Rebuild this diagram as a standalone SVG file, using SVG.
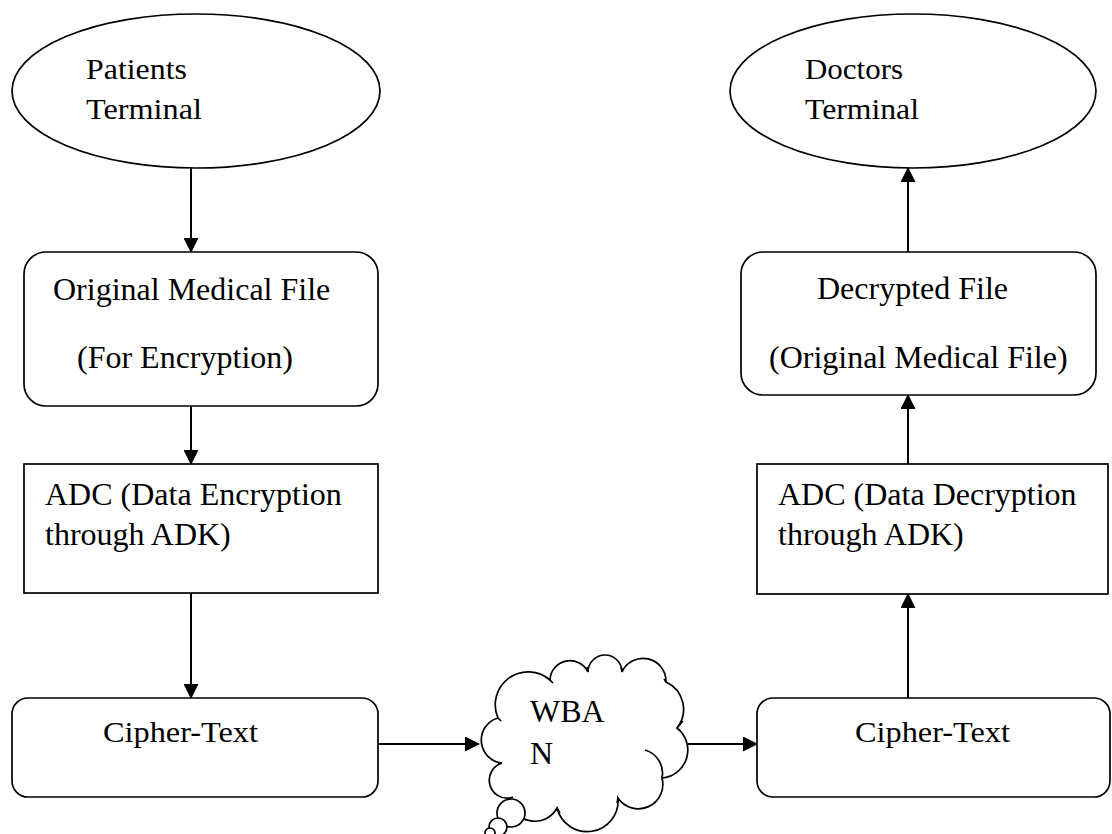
<svg xmlns="http://www.w3.org/2000/svg" width="1112" height="834" viewBox="0 0 1112 834">
<defs>
<style>
.shape{fill:#fff;stroke:#000;stroke-width:1.7}
.line{fill:none;stroke:#000;stroke-width:2}
text{font-family:"Liberation Serif","Times New Roman",serif;fill:#000;font-size:32px}
.sm{font-size:29px}
</style>
<marker id="arr" markerUnits="userSpaceOnUse" markerWidth="15" markerHeight="15" refX="14" refY="7.5" orient="auto">
<path d="M0,0 L15,7.5 L0,15 Z" fill="#000"/>
</marker>
</defs>

<g id="connectors">
<line class="line" x1="191" y1="168" x2="191" y2="252" marker-end="url(#arr)"/>
<line class="line" x1="191" y1="406" x2="191" y2="464" marker-end="url(#arr)"/>
<line class="line" x1="191" y1="593" x2="191" y2="698" marker-end="url(#arr)"/>
<line class="line" x1="378" y1="744" x2="479" y2="744" marker-end="url(#arr)"/>
<line class="line" x1="688" y1="744" x2="757" y2="744" marker-end="url(#arr)"/>
<line class="line" x1="908" y1="698" x2="908" y2="594" marker-end="url(#arr)"/>
<line class="line" x1="908" y1="464" x2="908" y2="395" marker-end="url(#arr)"/>
<line class="line" x1="908" y1="252" x2="908" y2="168" marker-end="url(#arr)"/>
</g>

<g id="patients-terminal">
<ellipse class="shape" cx="196" cy="91" rx="184" ry="77"/>
<text class="sm" x="86" y="79" textLength="101" lengthAdjust="spacingAndGlyphs">Patients</text>
<text class="sm" x="86" y="119" textLength="116" lengthAdjust="spacingAndGlyphs">Terminal</text>
</g>

<g id="original-medical-file">
<rect class="shape" x="24" y="252" width="354" height="154" rx="22" ry="22"/>
<text x="53" y="300">Original Medical File</text>
<text x="77" y="368">(For Encryption)</text>
</g>

<g id="adc-encryption">
<rect class="shape" x="24" y="464" width="354" height="129"/>
<text x="45" y="505">ADC (Data Encryption</text>
<text x="45" y="545">through ADK)</text>
</g>

<g id="cipher-text-left">
<rect class="shape" x="12" y="698" width="366" height="99" rx="16" ry="16"/>
<text class="sm" x="103" y="742" textLength="155" lengthAdjust="spacingAndGlyphs">Cipher-Text</text>
</g>

<g id="wban">
<path class="shape" d="M502,763 A23,23 0 0 1 498,718 A33,33 0 0 1 550,680 A20,20 0 0 1 588,672 A17,17 0 0 1 622,672 A23,23 0 0 1 666,682 A30,30 0 0 1 677,728 A28,28 0 0 1 662,778 A24.5,24.5 0 0 1 618,798 A31,31 0 0 1 557,808 A25,25 0 0 1 510,798 A18,18 0 0 1 502,763 Z"/>
<path class="line" style="stroke-width:1.7" d="M645,750 A24,24 0 0 1 662,778 M498,718 L501,721 M550,680 L553,683 M588,672 L587,667 M622,672 L621,667 M666,682 L664,679 M677,728 L683,721 M618,798 L617,803 M557,808 L560,813 M510,798 L513,797 M502,763 L498,763"/>
<circle class="shape" cx="511" cy="813" r="14"/>
<circle class="shape" cx="498" cy="827" r="9"/>
<circle class="shape" cx="490" cy="833" r="5"/>
<text x="530" y="722">WBA</text>
<text x="530" y="764">N</text>
</g>

<g id="doctors-terminal">
<ellipse class="shape" cx="913" cy="91" rx="183" ry="77"/>
<text class="sm" x="805" y="79" textLength="98" lengthAdjust="spacingAndGlyphs">Doctors</text>
<text class="sm" x="805" y="119" textLength="114" lengthAdjust="spacingAndGlyphs">Terminal</text>
</g>

<g id="decrypted-file">
<rect class="shape" x="741" y="252" width="355" height="143" rx="22" ry="22"/>
<text x="817" y="299">Decrypted File</text>
<text x="769" y="368">(Original Medical File)</text>
</g>

<g id="adc-decryption">
<rect class="shape" x="757" y="464" width="351" height="130"/>
<text x="778" y="505">ADC (Data Decryption</text>
<text x="778" y="545">through ADK)</text>
</g>

<g id="cipher-text-right">
<rect class="shape" x="757" y="698" width="353" height="99" rx="16" ry="16"/>
<text class="sm" x="855" y="742" textLength="155" lengthAdjust="spacingAndGlyphs">Cipher-Text</text>
</g>
</svg>
